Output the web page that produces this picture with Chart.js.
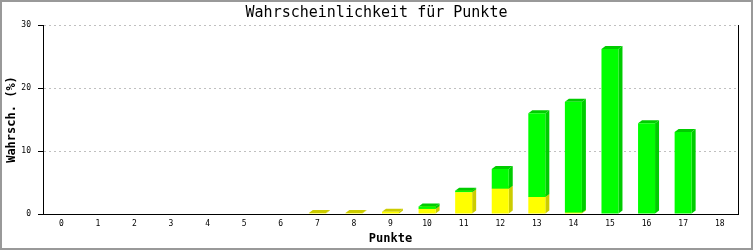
<!DOCTYPE html>
<html>
<head>
<meta charset="utf-8">
<script src="https://cdn.jsdelivr.net/npm/chart.js@4/dist/chart.umd.min.js"></script>
<style>
html,body{margin:0;padding:0;background:#fff;}
canvas{display:block;}
</style>
</head>
<body>
<canvas id="c" width="753" height="250"></canvas>
<script>
const categories = ['0','1','2','3','4','5','6','7','8','9','10','11','12','13','14','15','16','17','18'];
const yellowValues = [0,0,0,0,0,0,0,0.15,0.15,0.35,0.8,3.45,4.0,2.7,0.2,0,0,0,0];
const greenValues  = [0,0,0,0,0,0,0,0,0,0,0.4,0.25,3.15,13.3,17.6,26.2,14.4,13.0,0];
const yTicks = [0,10,20,30];

const FONT = 'DejaVu Sans Mono';

const bar3d = {
  id: 'bar3d',
  beforeDraw(chart) {
    const ctx = chart.ctx;
    ctx.save();
    ctx.fillStyle = '#fff';
    ctx.fillRect(0, 0, chart.width, chart.height);
    ctx.strokeStyle = '#999';
    ctx.lineWidth = 2;
    ctx.strokeRect(1, 1, chart.width - 2, chart.height - 2);
    ctx.restore();
  },
  beforeDatasetsDraw(chart) {
    const ctx = chart.ctx;
    const dx = 4, dy = 3;
    ctx.save();
    chart.data.datasets.forEach((ds, i) => {
      const meta = chart.getDatasetMeta(i);
      meta.data.forEach((bar, j) => {
        if (!ds.data[j]) return;
        const p = bar.getProps(['x', 'y', 'base', 'width'], true);
        const l = p.x - p.width / 2, r = p.x + p.width / 2;
        const top = Math.min(p.y, p.base), bot = Math.max(p.y, p.base);
        ctx.fillStyle = ds.sideColor;
        ctx.beginPath();
        ctx.moveTo(r, top);
        ctx.lineTo(r + dx, top - dy);
        ctx.lineTo(r + dx, bot - dy);
        ctx.lineTo(r, bot);
        ctx.closePath();
        ctx.fill();
        ctx.beginPath();
        ctx.moveTo(l, top);
        ctx.lineTo(l + dx, top - dy);
        ctx.lineTo(r + dx, top - dy);
        ctx.lineTo(r, top);
        ctx.closePath();
        ctx.fill();
      });
    });
    ctx.restore();
  }
};

new Chart(document.getElementById('c'), {
  type: 'bar',
  data: {
    labels: categories,
    datasets: [
      { label: 'gelb', data: yellowValues, backgroundColor: '#ffff00', sideColor: '#cccc00', borderWidth: 0 },
      { label: 'grün', data: greenValues, backgroundColor: '#00ff00', sideColor: '#00cc00', borderWidth: 0 }
    ]
  },
  options: {
    responsive: false,
    animation: false,
    devicePixelRatio: 1,
    layout: { padding: 0 },
    datasets: { bar: { barPercentage: 0.465, categoryPercentage: 1 } },
    plugins: {
      legend: { display: false },
      tooltip: { enabled: false },
      title: {
        display: true,
        text: 'Wahrscheinlichkeit für Punkte',
        color: '#000',
        font: { family: FONT, size: 15, weight: 'normal' },
        padding: { top: 4, bottom: 3 }
      }
    },
    scales: {
      x: {
        stacked: true,
        grid: { display: false, drawTicks: false },
        border: { color: '#000', width: 1 },
        ticks: { color: '#000', font: { family: FONT, size: 8 }, padding: 5, maxRotation: 0, autoSkip: false },
        title: { display: true, text: 'Punkte', color: '#000', font: { family: FONT, size: 12, weight: 'bold' }, padding: { top: 0, bottom: 4 } },
        afterFit(s) { s.height = 36; }
      },
      y: {
        stacked: true,
        min: 0,
        max: 30,
        afterBuildTicks(s) { s.ticks = yTicks.map(v => ({ value: v })); },
        grid: { color: '#c0c0c0', tickColor: '#000', tickLength: 5, tickWidth: 1, tickBorderDash: [] },
        border: { color: '#000', width: 1, dash: [2, 3] },
        ticks: { color: '#000', font: { family: FONT, size: 8 }, padding: 7 },
        title: { display: true, text: 'Wahrsch. (%)', color: '#000', font: { family: FONT, size: 12, weight: 'bold' }, padding: { top: 5, bottom: 0 } },
        afterFit(s) { s.width = 43; }
      },
      y2: {
        position: 'right',
        min: 0,
        max: 30,
        grid: { display: false, drawTicks: false },
        border: { display: true, color: '#000', width: 1 },
        ticks: { display: false },
        afterFit(s) { s.width = 15; }
      }
    }
  },
  plugins: [bar3d]
});
</script>
</body>
</html>
